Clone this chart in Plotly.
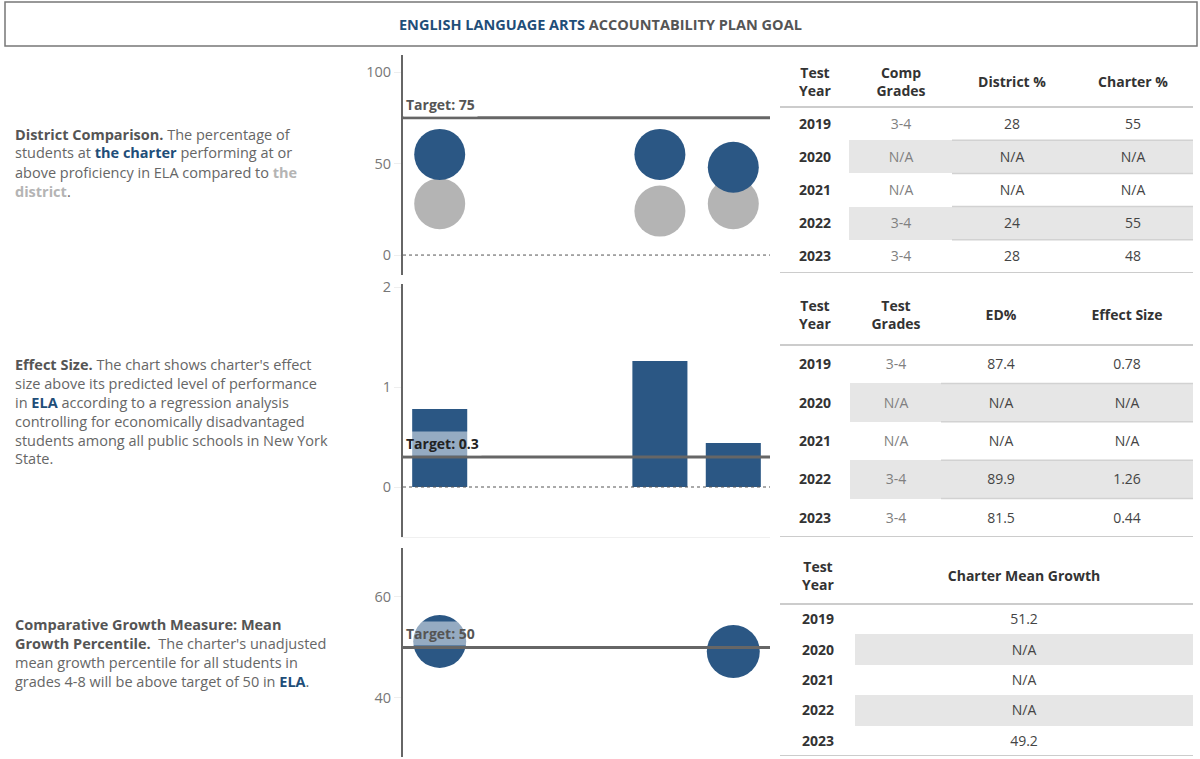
import plotly.graph_objects as go

# ---------------- data ----------------
years = ["2019", "2020", "2021", "2022", "2023"]

comp_grades = ["3-4", "N/A", "N/A", "3-4", "3-4"]
district_pct = [28, None, None, 24, 28]
charter_pct = [55, None, None, 55, 48]
target_prof = 75

test_grades = ["3-4", "N/A", "N/A", "3-4", "3-4"]
ed_pct = [87.4, None, None, 89.9, 81.5]
effect_size = [0.78, None, None, 1.26, 0.44]
target_effect = 0.3

mean_growth = [51.2, None, None, None, 49.2]
target_growth = 50

shaded_rows = [0, 1, 0, 1, 0]   # alternating grey band in the tables

# ---------------- style ----------------
W, H = 1200, 759
FONT = "Open Sans"
BLUE = "#2B5784"
DBLUE = "#1F4E79"
GREY = "#B4B4B4"
TXT = "#666666"
SHADE = "#E6E6E6"


def px(x):
    return x / W


def py(y):
    return 1 - y / H


def fmt(v):
    return "N/A" if v is None else str(v)


fig = go.Figure()

# ---- chart 1: district comparison ----
fig.add_trace(go.Scatter(x=years, y=district_pct, mode="markers",
                         marker=dict(size=51, color=GREY), xaxis="x", yaxis="y",
                         hoverinfo="skip"))
fig.add_trace(go.Scatter(x=years, y=charter_pct, mode="markers",
                         marker=dict(size=51, color=BLUE), xaxis="x", yaxis="y",
                         hoverinfo="skip"))

# ---- chart 2: effect size ----
fig.add_trace(go.Bar(x=years, y=effect_size, marker=dict(color=BLUE, line=dict(width=0)),
                     width=0.75, xaxis="x2", yaxis="y2", hoverinfo="skip"))

# ---- chart 3: mean growth ----
fig.add_trace(go.Scatter(x=years, y=mean_growth, mode="markers",
                         marker=dict(size=53, color=BLUE), xaxis="x3", yaxis="y3",
                         hoverinfo="skip"))

# ---------------- axes for charts ----------------
xdom = [px(403), px(770)]
xcommon = dict(domain=xdom, type="category", categoryarray=years, categoryorder="array",
               range=[-0.5, 4.5], showticklabels=False, showgrid=False, zeroline=False,
               ticks="", fixedrange=True)
ycommon = dict(showline=True, linecolor="#666666", linewidth=2, ticks="outside", ticklen=7,
               tickcolor="#EEEEEE", tickwidth=1, showgrid=False, zeroline=False,
               tickfont=dict(family=FONT, size=14.5, color="#777777"), fixedrange=True)

layout = dict(
    width=W, height=H, margin=dict(l=0, r=0, t=0, b=0, pad=0, autoexpand=False),
    paper_bgcolor="white", plot_bgcolor="white", showlegend=False,
    font=dict(family=FONT, color=TXT),
    xaxis=dict(**xcommon, anchor="y", showline=False),
    yaxis=dict(**ycommon, domain=[py(275), py(55)], range=[-10.9, 109.3],
               tickvals=[0, 50, 100], anchor="x"),
    xaxis2=dict(**xcommon, anchor="y2", showline=True, linecolor="#F0F0F0", linewidth=1),
    yaxis2=dict(**ycommon, domain=[py(537), py(284)], range=[-0.5, 2.03],
                tickvals=[0, 1, 2], anchor="x2"),
    xaxis3=dict(**xcommon, anchor="y3", showline=False),
    yaxis3=dict(**ycommon, domain=[py(757), py(548)], range=[28.3, 69.7],
                tickvals=[40, 60], anchor="x3"),
)
fig.update_layout(**layout)

shapes = []
# header box
shapes.append(dict(type="rect", xref="paper", yref="paper", x0=px(5), x1=px(1197),
                   y0=py(46), y1=py(2), line=dict(color="#777777", width=1.5)))

# target + zero lines
for xr, yr, tv, zero in [("x", "y", target_prof, True), ("x2", "y2", target_effect, True),
                         ("x3", "y3", target_growth, False)]:
    if zero:
        shapes.append(dict(type="line", xref=xr + " domain", yref=yr, x0=0, x1=1, y0=0, y1=0,
                           line=dict(color="#555555", width=1, dash="dot")))
    shapes.append(dict(type="line", xref=xr + " domain", yref=yr, x0=0, x1=1, y0=tv, y1=tv,
                       line=dict(color="#666666", width=3)))

# ---------------- tables (heatmap grid on hidden axes) ----------------
TFONT = 14


def add_table(idx, top, header_h, row_h, col_w, headers, columns, col_colors, rule_from_col):
    xa, ya = "x%d" % idx, "y%d" % idx
    x_edges = [0]
    for w in col_w:
        x_edges.append(x_edges[-1] + w)
    y_edges = [0, header_h] + [header_h + row_h * (i + 1) for i in range(len(years))]
    total_h = y_edges[-1]
    ncol = len(headers)
    z = [[0] * ncol]
    text = [["<b>%s</b>" % h.replace("<br>", "</b><br><b>") for h in headers]]
    for r in range(len(years)):
        zr, tr = [], []
        for c in range(ncol):
            zr.append(0 if c == 0 else shaded_rows[r])
            v = columns[c][r]
            s = "<span style='color:%s'>%s</span>" % (col_colors[c], v)
            if c == 0:
                s = "<b>%s</b>" % s
            tr.append(s)
        z.append(zr)
        text.append(tr)
    fig.add_trace(go.Heatmap(
        x=x_edges, y=y_edges, z=z, text=text, texttemplate="%{text}",
        textfont=dict(family=FONT, size=TFONT, color="#333333"),
        colorscale=[[0, "white"], [1, SHADE]], zmin=0, zmax=1, showscale=False,
        xgap=0, ygap=0, hoverinfo="skip", xaxis=xa, yaxis=ya))
    fig.update_layout(**{
        "xaxis%d" % idx: dict(domain=[px(780), px(780 + x_edges[-1])], range=[0, x_edges[-1]],
                              visible=False, fixedrange=True, anchor=ya),
        "yaxis%d" % idx: dict(domain=[py(top + total_h), py(top)], range=[total_h, 0],
                              visible=False, fixedrange=True, anchor=xa),
    })
    def rule(y, x0, x1, color, width):
        shapes.append(dict(type="line", xref=xa, yref=ya, x0=x0, x1=x1, y0=y, y1=y,
                           line=dict(color=color, width=width)))
    rule(header_h, 0, x_edges[-1], "#CCCCCC", 2)
    if rule_from_col is not None:
        for y in y_edges[2:-1]:
            rule(y, x_edges[rule_from_col], x_edges[-1], "#D2D2D2", 1.5)
    rule(total_h, 0, x_edges[-1], "#CCCCCC", 2)


add_table(4, 57, 50, 33.2, [69, 103, 120, 121],
          ["Test<br>Year", "Comp<br>Grades", "District %", "Charter %"],
          [years, comp_grades, [fmt(v) for v in district_pct], [fmt(v) for v in charter_pct]],
          ["#333333", "#808080", "#444444", "#444444"], 2)

add_table(5, 285, 60, 38.4, [70, 91, 120, 132],
          ["Test<br>Year", "Test<br>Grades", "ED%", "Effect Size"],
          [years, test_grades, [fmt(v) for v in ed_pct], [fmt(v) for v in effect_size]],
          ["#333333", "#808080", "#444444", "#444444"], 2)

add_table(6, 548, 56, 30.4, [75, 338],
          ["Test<br>Year", "Charter Mean Growth"],
          [years, [fmt(v) for v in mean_growth]],
          ["#333333", "#444444"], None)

fig.update_layout(shapes=shapes)

# ---------------- annotations ----------------
ann = []
ann.append(dict(xref="paper", yref="paper", x=0.5, y=py(24), xanchor="center", yanchor="middle",
                showarrow=False,
                text="<b><span style='color:%s'>ENGLISH LANGUAGE ARTS</span> ACCOUNTABILITY PLAN GOAL</b>" % DBLUE,
                font=dict(family=FONT, size=14.5, color="#555555")))

B = "<span style='color:#555555'><b>%s</b></span>"
BL = "<span style='color:%s'><b>%s</b></span>"
blocks = [
    ([134, 153, 172, 191], [
        B % "District Comparison." + " The percentage of",
        "students at " + BL % (DBLUE, "the charter") + " performing at or",
        "above proficiency in ELA compared to " + BL % ("#B4B4B4", "the"),
        BL % ("#B4B4B4", "district") + ".",
    ]),
    ([364, 383, 402, 421, 440, 458], [
        B % "Effect Size." + " The chart shows charter's effect",
        "size above its predicted level of performance",
        "in " + BL % (DBLUE, "ELA") + " according to a regression analysis",
        "controlling for economically disadvantaged",
        "students among all public schools in New York",
        "State.",
    ]),
    ([624, 643, 662, 681], [
        B % "Comparative Growth Measure: Mean",
        B % "Growth Percentile." + "  The charter's unadjusted",
        "mean growth percentile for all students in",
        "grades 4-8 will be above target of 50 in " + BL % (DBLUE, "ELA") + ".",
    ]),
]
for ys, lines in blocks:
    for yy, t in zip(ys, lines):
        ann.append(dict(xref="paper", yref="paper", x=px(13), y=py(yy), xanchor="left",
                        yanchor="middle", showarrow=False, text=t,
                        font=dict(family=FONT, size=14.5, color=TXT)))

for xr, yr, tv, label, bg, col in [
    ("x", "y", target_prof, "Target: 75", "white", "#555555"),
    ("x2", "y2", target_effect, "Target: 0.3", "rgba(255,255,255,0.5)", "#222222"),
    ("x3", "y3", target_growth, "Target: 50", "rgba(255,255,255,0.5)", "#555555"),
]:
    ann.append(dict(xref=xr + " domain", yref=yr, x=0, y=tv, xanchor="left", yanchor="bottom",
                    yshift=1, showarrow=False, text="<b>%s</b>" % label, bgcolor=bg,
                    borderpad=2, font=dict(family=FONT, size=14, color=col)))

fig.update_layout(annotations=ann)

fig.write_html("out.html")
